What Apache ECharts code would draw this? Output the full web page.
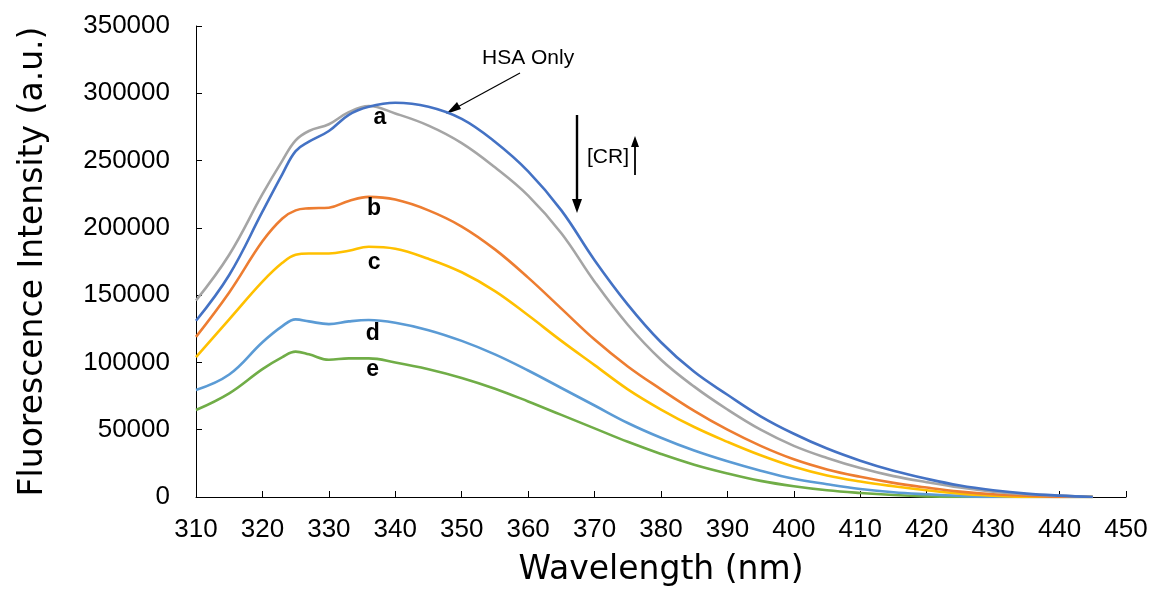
<!DOCTYPE html>
<html><head><meta charset="utf-8">
<script src="https://cdn.jsdelivr.net/npm/echarts@6/dist/echarts.min.js"></script>
<style>html,body{margin:0;padding:0;background:#fff}#c{width:1152px;height:593px}</style>
</head><body><div id="c"></div>
<script>
const wavelengths = [310,315,320,323,325,327,330,333,336,340,345,350,355,360,365,370,375,380,385,390,395,400,405,410,415,420,425,430,435,440,445];
const seriesA = [131000,165000,212000,240000,257000,264000,272000,284000,290000,293000,290000,281000,264000,242000,213000,176000,143000,115000,93000,76000,60000,47000,36000,27000,19500,13500,8500,5000,2500,1000,0];
const seriesGray = [146000,180000,225000,250000,265000,272000,277000,286000,290500,285000,276000,263000,245000,224000,196000,160000,128000,102000,82000,65000,50000,38000,29000,21500,15500,11000,7000,4000,2000,1000,0];
const seriesB = [119000,152000,190000,207000,213000,214500,215000,220000,223000,221000,213000,201000,184000,163000,140000,117000,97000,80000,64000,50000,38000,28000,20500,15000,10500,7000,4000,2000,1000,0,0];
const seriesC = [104000,132000,160000,174000,180000,181000,181000,183000,186000,184500,177000,167000,153000,135000,116000,98000,80000,65000,52000,41000,31000,22500,16000,11500,8000,5000,2500,1000,0,0,0];
const seriesD = [79500,91000,115000,127000,132000,130500,128500,130500,131500,129500,124000,116000,106000,94000,81000,68000,55000,44000,34500,26500,19500,13500,9500,6000,3500,2000,800,0,0,0,0];
const seriesE = [64600,77000,95000,104000,108000,106000,102000,103000,103000,100000,95000,88500,80500,71000,61000,51000,41000,32000,24000,17500,12000,8000,5000,3000,1500,500,0,0,0,0,0];
const curveLabels = ['a','b','c','d','e'];
const labelCoords = [[337.7,281600],[336.8,214000],[336.8,174000],[336.6,121200],[336.6,94700]];

function pair(v){ return wavelengths.map((w,i)=>[w,v[i]]); }
const chart = echarts.init(document.getElementById('c'));
const lbl = (i)=>({symbol:'circle',symbolSize:0,silent:true,
  label:{show:true,formatter:curveLabels[i],color:'#000',fontWeight:'bold',fontSize:23,fontFamily:'Liberation Sans',position:'inside'},
  data:[{coord:labelCoords[i]}]});
function mk(name,data,color,li,z){
  const s={name,type:'line',data:pair(data),smooth:0.4,showSymbol:false,z:z||2,
    lineStyle:{color,width:2.6},itemStyle:{color},animation:false};
  if(li!=null) s.markPoint=lbl(li);
  return s;
}
const axisFont = {fontFamily:'Liberation Sans',fontSize:26,color:'#000'};
chart.setOption({
  animation:false,
  grid:{left:196,right:26,top:26,bottom:96,containLabel:false},
  xAxis:{type:'value',min:310,max:450,interval:10,
    name:'Wavelength (nm)',nameLocation:'middle',nameGap:57,
    nameTextStyle:{fontFamily:'DejaVu Sans',fontSize:33,color:'#000'},
    axisLine:{show:true,lineStyle:{color:'#000',width:1}},
    axisTick:{show:true,inside:true,length:6,lineStyle:{color:'#000'}},
    axisLabel:Object.assign({margin:20},axisFont),splitLine:{show:false}},
  yAxis:{type:'value',min:0,max:350000,interval:50000,
    name:'Fluorescence Intensity (a.u.)',nameLocation:'middle',nameGap:146,
    nameTextStyle:{fontFamily:'DejaVu Sans',fontSize:33,color:'#000'},
    axisLine:{show:true,lineStyle:{color:'#000',width:1}},
    axisTick:{show:true,inside:true,length:6,lineStyle:{color:'#000'}},
    axisLabel:Object.assign({margin:26,formatter:(v)=>String(v)},axisFont),splitLine:{show:false}},
  series:[
    mk('e',seriesE,'#70AD47',4,2),
    mk('d',seriesD,'#5B9BD5',3,2),
    mk('c',seriesC,'#FFC000',2,2),
    mk('b',seriesB,'#ED7D31',1,2),
    mk('gray',seriesGray,'#A5A5A5',null,2),
    mk('a',seriesA,'#4472C4',0,3)
  ],
  graphic:[
    {type:'text',left:482,top:48,style:{text:'HSA Only',font:'21px "Liberation Sans"',fill:'#000'}},
    {type:'line',shape:{x1:520,y1:73,x2:452,y2:110},style:{stroke:'#000',lineWidth:1.2}},
    {type:'polygon',shape:{points:[[446,114],[457,102],[461,109]]},style:{fill:'#000'}},
    {type:'line',shape:{x1:577,y1:115,x2:577,y2:202},style:{stroke:'#000',lineWidth:2.4}},
    {type:'polygon',shape:{points:[[572,199],[582,199],[577,213]]},style:{fill:'#000'}},
    {type:'text',left:587,top:147,style:{text:'[CR]',font:'21px "Liberation Sans"',fill:'#000'}},
    {type:'line',shape:{x1:635,y1:175,x2:635,y2:145},style:{stroke:'#000',lineWidth:1.8}},
    {type:'polygon',shape:{points:[[631,147],[639,147],[635,136]]},style:{fill:'#000'}}
  ]
});
</script></body></html>
